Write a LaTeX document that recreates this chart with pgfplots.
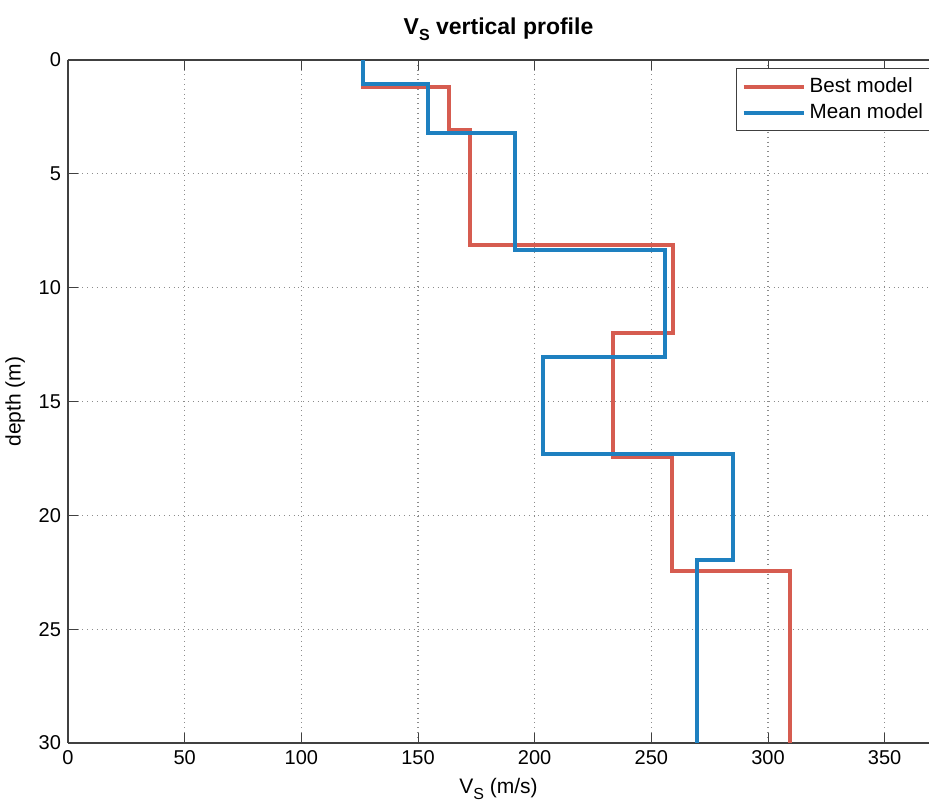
\documentclass[border=0pt]{standalone}
\usepackage{fontspec}
\setmainfont{Liberation Sans}
\usepackage{pgfplots}
\pgfplotsset{compat=1.18}
\usetikzlibrary{calc}
\definecolor{bestred}{RGB}{214,92,80}
\definecolor{meanblue}{RGB}{30,128,192}
\newcommand{\Vs}{V\raisebox{-0.55ex}{\footnotesize S}}
\begin{document}
\begin{tikzpicture}
\begin{axis}[
    width=430.5pt, height=341.5pt, scale only axis,
    xmin=0, xmax=369, ymin=0, ymax=30, y dir=reverse,
    xtick={0,50,...,350}, ytick={0,5,...,30},
    axis x line*=box, axis y line*=left,
    axis line style={black!75, line width=0.6pt},
    tick align=inside, major tick length=5pt,
    tick style={black!75, line width=0.5pt},
    grid=major, grid style={dotted, black!45, line width=0.6pt},
    tick label style={font=\fontsize{10}{12}\selectfont},
    /pgf/number format/assume math mode=true,
    label style={font=\fontsize{10.5}{12}\selectfont},
    xlabel={\Vs\ (m/s)}, ylabel={depth (m)},
    title={\textbf{\Vs\ vertical profile}},
    title style={font=\fontsize{11.5}{13}\selectfont},
    legend cell align=left,
    legend style={at={(axis description cs:0.776,0.988)}, anchor=north west,
        draw=black!75, line width=0.6pt, font=\fontsize{10.3}{12.5}\selectfont,
        inner sep=2.5pt},
    legend image code/.code={\draw[#1] (0pt,0pt) -- (30pt,0pt);},
]
\addplot[bestred, line width=2pt] coordinates {
    (126.4,0) (126.4,1.19) (163.3,1.19) (163.3,3.07) (172.3,3.07) (172.3,8.12)
    (259.3,8.12) (259.3,12.0) (233.6,12.0) (233.6,17.43) (258.9,17.43)
    (258.9,22.44) (309.5,22.44) (309.5,30)};
\addplot[meanblue, line width=2pt] coordinates {
    (126.4,0) (126.4,1.05) (154.3,1.05) (154.3,3.2) (191.6,3.2) (191.6,8.34)
    (255.9,8.34) (255.9,13.04) (203.6,13.04) (203.6,17.3) (285,17.3)
    (285,21.96) (269.6,21.96) (269.6,30)};
\legend{Best model, Mean model}
\coordinate (tl) at (axis description cs:0,1);
\coordinate (br) at (axis description cs:1,0);
\end{axis}
\pgfresetboundingbox
\path[use as bounding box] ($(tl)+(-34pt,30pt)$) rectangle ($(br)+(0,-30.5pt)$);
\end{tikzpicture}
\end{document}
